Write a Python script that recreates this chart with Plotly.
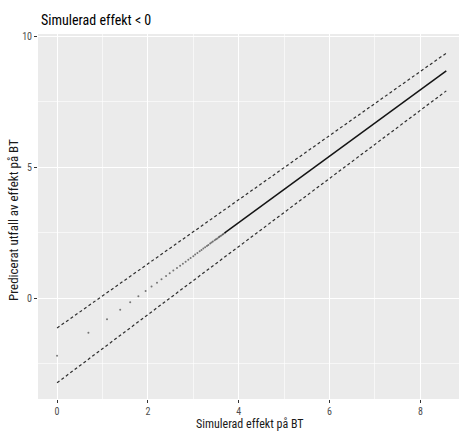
import plotly.graph_objects as go

# Sparse predicted points (x = simulated effect, y = predicted outcome)
pt_x = [0.00, 0.69, 1.10, 1.39, 1.61, 1.79, 1.95, 2.08, 2.20, 2.30, 2.40, 2.48,
        2.56, 2.64, 2.71, 2.77, 2.83, 2.89, 2.94, 3.00,
        3.04, 3.09, 3.14, 3.18, 3.22, 3.26, 3.30, 3.33, 3.37, 3.40,
        3.43, 3.47, 3.50, 3.53, 3.56, 3.58, 3.61, 3.64, 3.66, 3.69]
pt_y = [-2.20, -1.32, -0.81, -0.44, -0.16, 0.07, 0.27, 0.44, 0.59, 0.72, 0.84, 0.95,
        1.05, 1.15, 1.24, 1.31, 1.39, 1.46, 1.53, 1.60,
        1.66, 1.72, 1.79, 1.84, 1.89, 1.94, 1.99, 2.03, 2.08, 2.12,
        2.16, 2.21, 2.25, 2.28, 2.32, 2.35, 2.38, 2.42, 2.45, 2.49]

# Dense part of the prediction (appears as a solid line)
dense_x = [3.69, 8.57]
dense_y = [2.49, 8.67]

# Prediction bounds (dashed)
upper_x = [0.00, 8.57]
upper_y = [-1.14, 9.35]
lower_x = [0.00, 8.57]
lower_y = [-3.23, 7.91]

x_ticks = [0, 2, 4, 6, 8]
y_ticks = [0, 5, 10]

title_text = "Simulerad effekt < 0"
x_title = "Simulerad effekt på BT"
y_title = "Predicerat utfall av effekt på BT"

FONT = "Roboto Condensed, Archivo Narrow, Liberation Sans, Arial, sans-serif"

W, H = 459, 432
L, R, T, B = 38, 0, 34, 33
PW, PH = W - L - R, H - T - B


def px(xp):
    return (xp - L) / PW


def py(yp):
    return (H - B - yp) / PH


fig = go.Figure()
for bx, by in ((upper_x, upper_y), (lower_x, lower_y)):
    fig.add_trace(go.Scatter(x=bx, y=by, mode="lines",
                             line=dict(color="#2e2e2e", width=1.2, dash="3px,2.5px"),
                             showlegend=False, hoverinfo="skip"))
fig.add_trace(go.Scatter(x=dense_x, y=dense_y, mode="lines",
                         line=dict(color="#141414", width=1.5),
                         showlegend=False))
fig.add_trace(go.Scatter(x=pt_x, y=pt_y, mode="markers",
                         marker=dict(color="rgba(0,0,0,0.5)", size=2),
                         showlegend=False))

axis_common = dict(
    automargin=False,
    showgrid=True, gridcolor="white", gridwidth=1.1,
    zeroline=False, showline=False,
    ticks="outside", ticklen=3, tickcolor="#333333", tickwidth=1,
    tickfont=dict(family=FONT, size=10, color="#4d4d4d"),
)

fig.update_layout(
    width=W, height=H,
    margin=dict(l=L, r=R, t=T, b=B, autoexpand=False),
    paper_bgcolor="white", plot_bgcolor="#ebebeb",
    font=dict(family=FONT),
)
fig.update_xaxes(range=[-0.42, 8.85], tickvals=x_ticks,
                 ticktext=[str(v) for v in x_ticks],
                 minor=dict(showgrid=True, gridcolor="rgba(255,255,255,0.6)",
                            gridwidth=0.6, ticks="", tickvals=[1, 3, 5, 7]),
                 **axis_common)
fig.update_yaxes(range=[-3.85, 10.08], tickvals=y_ticks,
                 ticktext=[str(v) for v in y_ticks],
                 minor=dict(showgrid=True, gridcolor="rgba(255,255,255,0.6)",
                            gridwidth=0.6, ticks="", tickvals=[-2.5, 2.5, 7.5]),
                 **axis_common)

fig.add_annotation(text=title_text, xref="paper", yref="paper",
                   x=px(39), y=py(20), xanchor="left", yanchor="middle", align="left",
                   showarrow=False, font=dict(family=FONT, size=14, color="black"))
fig.add_annotation(text=x_title, xref="paper", yref="paper",
                   x=px(250), y=py(424), xanchor="center", yanchor="middle",
                   showarrow=False, font=dict(family=FONT, size=12, color="#1a1a1a"))
fig.add_annotation(text=y_title, xref="paper", yref="paper",
                   x=px(13), y=py(220), xanchor="center", yanchor="middle",
                   textangle=-90, showarrow=False,
                   font=dict(family=FONT, size=13, color="#1a1a1a"))

fig.write_html("out.html", config={"displayModeBar": False},
               post_script="document.body.style.margin='0';document.body.style.padding='0';")
